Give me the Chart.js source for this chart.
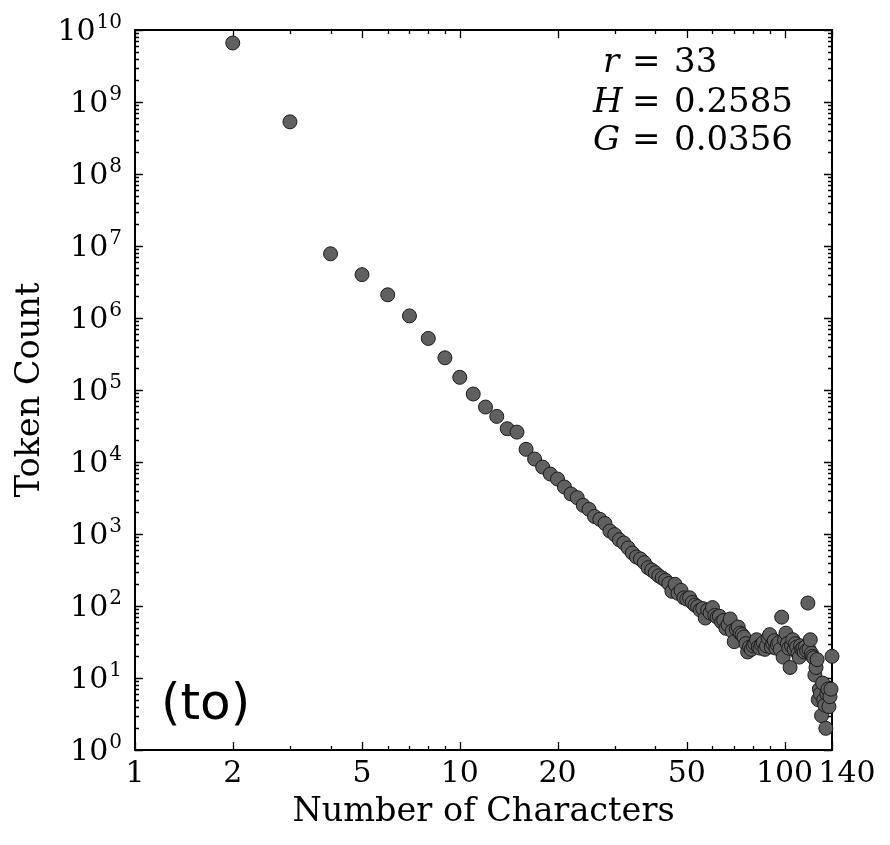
<!DOCTYPE html>
<html>
<head>
<meta charset="utf-8">
<script src="https://cdn.jsdelivr.net/npm/chart.js@4.4.1/dist/chart.umd.min.js"></script>
<style>
html,body{margin:0;padding:0;background:#ffffff;}
#wrap{width:890px;height:845px;}
</style>
</head>
<body>
<div id="wrap"><canvas id="c" width="890" height="845"></canvas></div>
<script>
const charCounts = [2,3,4,5,6,7,8,9,10,11,12,13,14,15,16,17,18,19,20,21,22,23,24,25,26,27,28,29,30,31,32,33,34,35,36,37,38,39,40,41,42,43,44,45,46,47,48,49,50,51,52,53,54,55,56,57,58,59,60,61,62,63,64,65,66,67,68,69,70,71,72,73,74,75,76,77,78,79,80,81,82,83,84,85,86,87,88,89,90,91,92,93,94,95,96,97,98,99,100,101,102,103,104,105,106,107,108,109,110,111,112,113,114,115,116,117,118,119,120,121,122,123,124,125,126,127,128,129,130,131,132,133,134,135,136,137,138,139,140];
const tokenCounts = [6.6e9,5.3e8,7.8e6,4.0e6,2.1e6,1.07e6,5.2e5,2.8e5,1.5e5,8.8e4,5.8e4,4.3e4,2.9e4,2.6e4,1.5e4,1.1e4,8500,6800,5800,4500,3600,3200,2500,2200,1750,1600,1400,1100,980,830,750,640,545,480,450,400,340,316,290,262,245,228,205,160,200,150,165,130,125,130,112,103,98,88,92,68,88,80,95,74,70,72,60,63,49,55,66,45,32,48,51,42,40,37,30,23,27,25,28,30,34,27,26,29,31,25,28,36,40,27,30,33,26,29,31,25,70,19.5,34,42,30,26,14,28,34,25,30,27,22,19.5,28,25,26,23,27,24,110,25,34,22,20,19,11,14,18,5,7,6,3,8.5,5,4.2,2,6,7,4,5.5,7,20];
const xTickValues = [1,2,5,10,20,50,100,140];
const xTickLabels = ['1','2','5','10','20','50','100','140'];
const xMinorValues = [3,4,6,7,8,9,30,40,60,70,80,90];
const yTickExponents = [0,1,2,3,4,5,6,7,8,9,10];
const statLines = [
  {sym:'r', val:'33'},
  {sym:'H', val:'0.2585'},
  {sym:'G', val:'0.0356'}
];
const panelLabel = '(to)';
const xTitle = 'Number of Characters';
const yTitle = 'Token Count';

const points = charCounts.map((x,i)=>({x:x, y:tokenCounts[i]}));
const serif = "'DejaVu Serif', serif";

const framePlugin = {
  id:'frameTicks',
  beforeDatasetsDraw(chart){
    const {ctx, chartArea:a, scales} = chart;
    const xs = scales.x, ys = scales.y;
    ctx.save();
    ctx.strokeStyle = '#000';
    ctx.lineWidth = 1.3;
    ctx.beginPath();
    const tick = (px, major, horiz) => {
      const L = major ? 8 : 4;
      if (horiz) {
        ctx.moveTo(px, a.bottom); ctx.lineTo(px, a.bottom - L);
        ctx.moveTo(px, a.top); ctx.lineTo(px, a.top + L);
      } else {
        ctx.moveTo(a.left, px); ctx.lineTo(a.left + L, px);
        ctx.moveTo(a.right, px); ctx.lineTo(a.right - L, px);
      }
    };
    xTickValues.forEach(v=>tick(Math.round(xs.getPixelForValue(v))+0.5, true, true));
    xMinorValues.forEach(v=>tick(Math.round(xs.getPixelForValue(v))+0.5, false, true));
    yTickExponents.forEach(e=>{
      tick(Math.round(ys.getPixelForValue(Math.pow(10,e)))+0.5, true, false);
      if (e < 10) {
        [2,3,4,5,6,7,8,9].forEach(m=>tick(Math.round(ys.getPixelForValue(m*Math.pow(10,e)))+0.5, false, false));
      }
    });
    ctx.stroke();
    ctx.lineWidth = 2;
    ctx.strokeRect(a.left, a.top, a.right - a.left, a.bottom - a.top);

    // tick labels
    ctx.fillStyle = '#000';
    ctx.textBaseline = 'alphabetic';
    ctx.font = "30px 'DejaVu Serif', serif";
    ctx.textAlign = 'center';
    xTickValues.forEach((v,i)=>{
      let px = xs.getPixelForValue(v);
      if (v === 140) px += 15;
      ctx.fillText(xTickLabels[i], px, a.bottom + 32);
    });
    ctx.textAlign = 'right';
    const rightEdge = a.left - 13;
    yTickExponents.forEach(e=>{
      const py = ys.getPixelForValue(Math.pow(10,e));
      ctx.font = "20px 'DejaVu Serif', serif";
      const ex = String(e);
      const w = ctx.measureText(ex).width;
      ctx.fillText(ex, rightEdge, py - 2);
      ctx.font = "30px 'DejaVu Serif', serif";
      ctx.fillText('10', rightEdge - w - 1, py + 10);
    });
    ctx.restore();
  },
  afterDraw(chart){
    const {ctx} = chart;
    ctx.save();
    ctx.fillStyle = '#000';
    ctx.textBaseline = 'alphabetic';
    ctx.textAlign = 'left';
    const symX = [603, 593, 593];
    const baseY = [72, 112, 150];
    statLines.forEach((s,i)=>{
      ctx.font = "italic 34px 'DejaVu Serif', serif";
      ctx.fillText(s.sym, symX[i], baseY[i]);
      ctx.font = "34px 'DejaVu Serif', serif";
      ctx.fillText('=', 632, baseY[i]);
      ctx.fillText(s.val, 674, baseY[i]);
    });
    ctx.font = "50px 'DejaVu Sans', sans-serif";
    ctx.fillText(panelLabel, 161, 719);
    ctx.restore();
  }
};

new Chart(document.getElementById('c'), {
  type:'scatter',
  data:{datasets:[{
    data:points,
    pointRadius:7,
    pointHoverRadius:7,
    backgroundColor:'#606060',
    borderColor:'#1a1a1a',
    borderWidth:1,
    clip:false
  }]},
  options:{
    responsive:false,
    animation:false,
    devicePixelRatio:1,
    layout:{padding:{left:0,right:58,top:30,bottom:0}},
    plugins:{legend:{display:false},tooltip:{enabled:false}},
    scales:{
      x:{
        type:'logarithmic', min:1, max:140,
        afterBuildTicks:s=>{s.ticks = xTickValues.map(v=>({value:v}));},
        afterFit:s=>{s.height = 95;},
        grid:{display:false, drawTicks:false},
        border:{display:false},
        ticks:{display:false},
        title:{display:true, text:xTitle, color:'#000', font:{family:serif, size:33.5}, padding:{top:0,bottom:13}}
      },
      y:{
        type:'logarithmic', min:1, max:1e10,
        afterBuildTicks:s=>{s.ticks = yTickExponents.map(e=>({value:Math.pow(10,e)}));},
        afterFit:s=>{s.width = 135;},
        grid:{display:false, drawTicks:false},
        border:{display:false},
        ticks:{display:false},
        title:{display:true, text:yTitle, color:'#000', font:{family:serif, size:33.5}, padding:{top:10,bottom:0}}
      }
    }
  },
  plugins:[framePlugin]
});
</script>
</body>
</html>
